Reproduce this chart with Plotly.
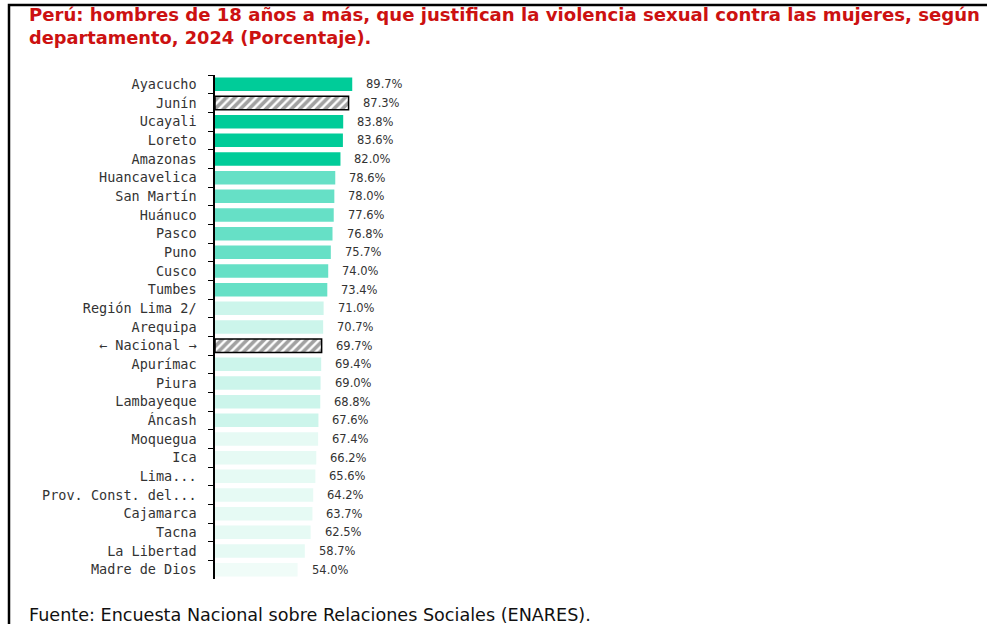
import plotly.graph_objects as go

departamentos = ["Ayacucho", "Junín", "Ucayali", "Loreto", "Amazonas", "Huancavelica",
                 "San Martín", "Huánuco", "Pasco", "Puno", "Cusco", "Tumbes",
                 "Región Lima 2/", "Arequipa", "← Nacional →", "Apurímac", "Piura",
                 "Lambayeque", "Áncash", "Moquegua", "Ica", "Lima...",
                 "Prov. Const. del...", "Cajamarca", "Tacna", "La Libertad", "Madre de Dios"]
valores = [89.7, 87.3, 83.8, 83.6, 82.0, 78.6, 78.0, 77.6, 76.8, 75.7, 74.0, 73.4,
           71.0, 70.7, 69.7, 69.4, 69.0, 68.8, 67.6, 67.4, 66.2, 65.6, 64.2, 63.7,
           62.5, 58.7, 54.0]
grupos = [1, 0, 1, 1, 1, 2, 2, 2, 2, 2, 2, 2,
          3, 3, 0, 3, 3, 3, 3, 4, 4, 4, 4, 4, 4, 4, 5]
etiquetas = [f"{v:.1f}%" for v in valores]
titulo_1 = "Perú: hombres de 18 años a más, que justifican la violencia sexual contra las mujeres, según"
titulo_2 = "departamento, 2024 (Porcentaje)."
fuente = "Fuente: Encuesta Nacional sobre Relaciones Sociales (ENARES)."

colores_grupo = {0: "#ffffff", 1: "#00cc99", 2: "#66e0c6", 3: "#ccf5eb", 4: "#e6faf4", 5: "#f0fcf8"}
colores = [colores_grupo[g] for g in grupos]
shapes_pat = ["/" if g == 0 else "" for g in grupos]
lineas_c = ["#000000" if g == 0 else "rgba(0,0,0,0)" for g in grupos]
lineas_w = [1.5 if g == 0 else 0 for g in grupos]

fig = go.Figure()
fig.add_trace(go.Bar(
    x=valores, y=departamentos, orientation="h",
    marker=dict(color=colores,
                pattern=dict(shape=shapes_pat, fgcolor="#000000", bgcolor="#ffffff",
                             size=6, solidity=0.6, fillmode="overlay"),
                line=dict(color=lineas_c, width=lineas_w)),
    hoverinfo="skip", showlegend=False,
))

for v, d, t in zip(valores, departamentos, etiquetas):
    fig.add_annotation(x=v, y=d, text=t, showarrow=False, xanchor="left", xshift=12,
                       font=dict(family="DejaVu Sans", size=11.5, color="#333333"))

W, H = 987, 624
L, T, B = 215, 75, 45
pw = W - L
ph = H - T - B
scale = 1.53
xmax = pw / scale

def px(x):
    return (x - L) / pw

def py(y):
    return (H - B - y) / ph

fig.add_shape(type="rect", xref="paper", yref="paper", x0=px(9), x1=px(990), y0=py(5), y1=py(630),
              line=dict(color="#000000", width=2.5), fillcolor="rgba(0,0,0,0)", layer="above")

fig.add_annotation(xref="paper", yref="paper", x=px(27), y=py(15), xanchor="left", yanchor="middle",
                   showarrow=False, text="<b>" + titulo_1 + "</b>",
                   font=dict(family="DejaVu Sans", size=18.1, color="#cc1111"))
fig.add_annotation(xref="paper", yref="paper", x=px(27), y=py(37), xanchor="left", yanchor="middle",
                   showarrow=False, text="<b>" + titulo_2 + "</b>",
                   font=dict(family="DejaVu Sans", size=17.8, color="#cc1111"))
fig.add_annotation(xref="paper", yref="paper", x=px(27), y=py(615), xanchor="left", yanchor="middle",
                   showarrow=False, text=fuente,
                   font=dict(family="DejaVu Sans", size=17.6, color="#111111"))

fig.update_layout(
    width=W, height=H,
    margin=dict(l=L, r=0, t=T, b=B, autoexpand=False),
    paper_bgcolor="#ffffff", plot_bgcolor="#ffffff",
    bargap=0.28,
    xaxis=dict(range=[0, xmax], visible=False, fixedrange=True),
    yaxis=dict(autorange="reversed", showline=True, linecolor="#000000", linewidth=1.5,
               ticks="outside", tickson="boundaries", ticklen=5, tickcolor="#000000",
               tickwidth=1.2, showgrid=False, ticklabelstandoff=14,
               tickfont=dict(family="DejaVu Sans Mono", size=13.5, color="#333333")),
)

fig.write_html("out.html", config={"displayModeBar": False},
               post_script="document.body.style.margin='0px';document.body.style.overflow='hidden';")
